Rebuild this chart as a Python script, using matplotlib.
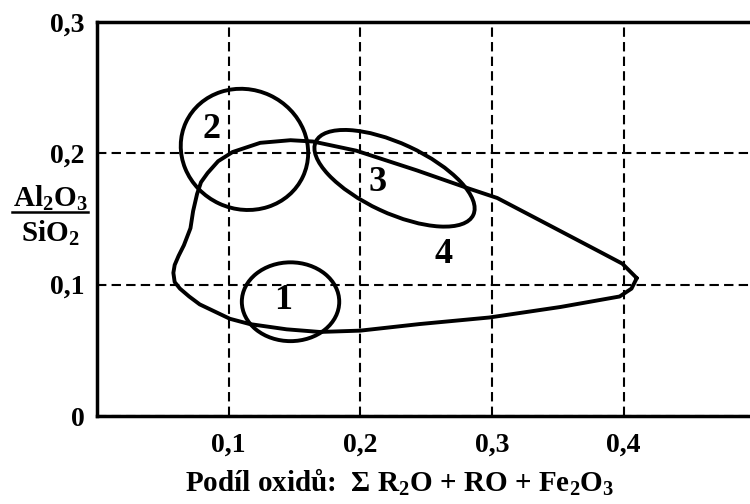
import matplotlib.pyplot as plt
from matplotlib.patches import Ellipse
from matplotlib.lines import Line2D

plt.rcParams['font.family'] = ['Liberation Serif', 'DejaVu Serif']
plt.rcParams['font.weight'] = 'bold'
plt.rcParams['mathtext.fontset'] = 'custom'
plt.rcParams['mathtext.rm'] = 'Liberation Serif:bold'
plt.rcParams['mathtext.bf'] = 'Liberation Serif:bold'
plt.rcParams['mathtext.it'] = 'Liberation Serif:bold'
plt.rcParams['mathtext.default'] = 'rm'

x_ticks = [0.1, 0.2, 0.3, 0.4]
x_labels = ["0,1", "0,2", "0,3", "0,4"]
y_ticks = [0, 0.1, 0.2, 0.3]
y_labels = ["0", "0,1", "0,2", "0,3"]

# obrys oblasti 4 (od spicky vpravo, horem doleva, dolem zpet)
area4_x = [0.410, 0.399, 0.382, 0.344, 0.304, 0.283, 0.243, 0.197, 0.164,
           0.147, 0.124, 0.103, 0.092, 0.084, 0.079, 0.076, 0.073, 0.071,
           0.066, 0.062, 0.059, 0.058, 0.059, 0.063, 0.070, 0.078, 0.101,
           0.116, 0.144, 0.169, 0.200, 0.245, 0.298, 0.352, 0.397, 0.406,
           0.410]
area4_y = [0.105, 0.116, 0.125, 0.145, 0.166, 0.173, 0.187, 0.202, 0.209,
           0.210, 0.208, 0.201, 0.194, 0.185, 0.178, 0.169, 0.156, 0.143,
           0.130, 0.122, 0.115, 0.109, 0.102, 0.097, 0.091, 0.085, 0.074,
           0.070, 0.066, 0.064, 0.065, 0.070, 0.075, 0.083, 0.091, 0.097,
           0.105]

# oblasti 1-3 jako elipsy
ell_cx = [0.147, 0.112, 0.226]
ell_cy = [0.087, 0.203, 0.181]
ell_w = [0.074, 0.098, 0.132]
ell_h = [0.060, 0.091, 0.053]
ell_angle = [0, -25, -25]

area_ids = ["1", "2", "3", "4"]
id_x = [0.141, 0.087, 0.213, 0.263]
id_y = [0.088, 0.218, 0.178, 0.123]

W, H = 750, 504
fig = plt.figure(figsize=(W / 100, H / 100), dpi=100)
ax = fig.add_axes([97 / W, 1 - 416 / H, 1 - 97 / W, (416 - 22) / H])

ax.set_xlim(0, 0.496)
ax.set_ylim(0, 0.3)

ax.set_xticks(x_ticks, x_labels)
ax.set_yticks(y_ticks, y_labels)
ax.tick_params(axis='both', length=0, labelsize=20)
ax.tick_params(axis='x', pad=12)
ax.tick_params(axis='y', pad=9)

ax.grid(True, color='black', linestyle=(0, (4.5, 2.5)), linewidth=1.5)
ax.set_axisbelow(True)

for side in ['left', 'bottom', 'top']:
    ax.spines[side].set_linewidth(2.5)
ax.spines['right'].set_visible(False)

ax.plot(area4_x, area4_y, color='black', lw=2.8,
        solid_joinstyle='round', solid_capstyle='round')

for cx, cy, w, h, a in zip(ell_cx, ell_cy, ell_w, ell_h, ell_angle):
    ax.add_patch(Ellipse((cx, cy), w, h, angle=a, fill=False,
                         edgecolor='black', lw=2.8))

for t, x, y in zip(area_ids, id_x, id_y):
    ax.text(x, y, t, fontsize=26, fontweight='bold',
            ha='center', va='center')

# popisek osy y jako zlomek
fig.text(50 / W, 1 - 207 / H, r"Al$_2$O$_3$", fontsize=21,
         ha='center', va='baseline')
fig.add_artist(Line2D([12 / W, 88 / W], [1 - 212 / H, 1 - 212 / H],
                      transform=fig.transFigure, color='black', lw=1.8))
fig.text(50 / W, 1 - 219 / H, r"SiO$_2$", fontsize=21,
         ha='center', va='top')

fig.text(400 / W, 1 - 492 / H,
         r"Podíl oxidů:  Σ R$_2$O + RO + Fe$_2$O$_3$",
         fontsize=21, ha='center', va='baseline')

fig.savefig("out.png", dpi=100)
